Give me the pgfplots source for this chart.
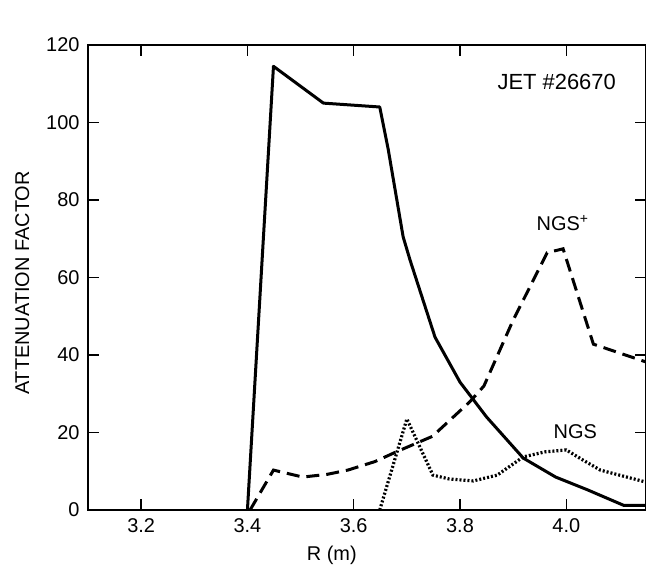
\documentclass[border=0pt]{standalone}
\usepackage{fontspec}
\setmainfont{Liberation Sans}
\usepackage{pgfplots}
\pgfplotsset{compat=1.18}

\begin{document}
\begin{tikzpicture}
\begin{axis}[
    scale only axis,
    width=558bp, height=465bp,
    xmin=3.1, xmax=4.15,
    ymin=0, ymax=120,
    xtick={3.2,3.4,3.6,3.8,4.0},
    xticklabels={3.2,3.4,3.6,3.8,4.0},
    ytick={0,20,40,60,80,100,120},
    tick align=inside,
    major tick length=11bp,
    axis line style={line width=2.4bp},
    tick style={line width=1.3bp, black},
    ticklabel style={font=\fontsize{20}{22}\selectfont},
    xticklabel style={yshift=-5bp},
    yticklabel style={xshift=-5bp},
    /pgf/number format/assume math mode=true,
    xlabel={R (m)},
    ylabel={ATTENUATION FACTOR},
    label style={font=\fontsize{20}{22}\selectfont},
    xlabel style={at={(axis description cs:0.437,-0.097)}, anchor=center},
    ylabel style={at={(axis description cs:-0.118,0.488)}, anchor=center},
]

% solid
\addplot[black, line width=3bp, line join=round] coordinates {
    (3.400,0) (3.449,114.5) (3.543,105) (3.649,104) (3.665,93)
    (3.693,70.5) (3.706,64.5) (3.753,44.6) (3.800,33) (3.850,24)
    (3.919,13.4) (3.980,8.5) (4.040,5.2) (4.108,1.2) (4.150,1.2)
};

% NGS+ (dashed)
\addplot[black, line width=3bp, dash pattern=on 13bp off 7bp] coordinates {
    (3.405,0) (3.449,10.3) (3.504,8.5) (3.550,9.2) (3.589,10.3)
    (3.640,12.5) (3.680,15) (3.748,19) (3.819,28) (3.845,32)
    (3.900,49) (3.964,66.4) (3.994,67.4) (4.051,42.8) (4.150,38.2)
};

% NGS (dotted)
\addplot[black, line width=3.2bp, dash pattern=on 2bp off 2bp] coordinates {
    (3.649,0) (3.700,23.5) (3.749,9) (3.780,8) (3.825,7.5)
    (3.870,9) (3.919,13.7) (3.960,15) (4.000,15.5) (4.030,13)
    (4.064,10.3) (4.100,9) (4.150,7.2)
};

\node[font=\fontsize{22}{24}\selectfont] at (axis cs:3.982,110.5) {JET \#26670};
\node[font=\fontsize{20}{22}\selectfont] at (axis cs:3.993,74) {NGS\textsuperscript{+}};
\node[font=\fontsize{20}{22}\selectfont] at (axis cs:4.017,20.1) {NGS};
\node[anchor=south east, inner sep=0pt, font=\fontsize{17}{19}\selectfont]
    at ([shift={(-2bp,18bp)}]rel axis cs:1,1) {ORNL-DWG 92M-2338\ \ FED};

\coordinate (bl) at (rel axis cs:0,0);
\coordinate (tr) at (rel axis cs:1,1);
\end{axis}
\pgfresetboundingbox
\path ([shift={(-88bp,-62bp)}]bl) rectangle ([shift={(0bp,45bp)}]tr);
\end{tikzpicture}
\end{document}
